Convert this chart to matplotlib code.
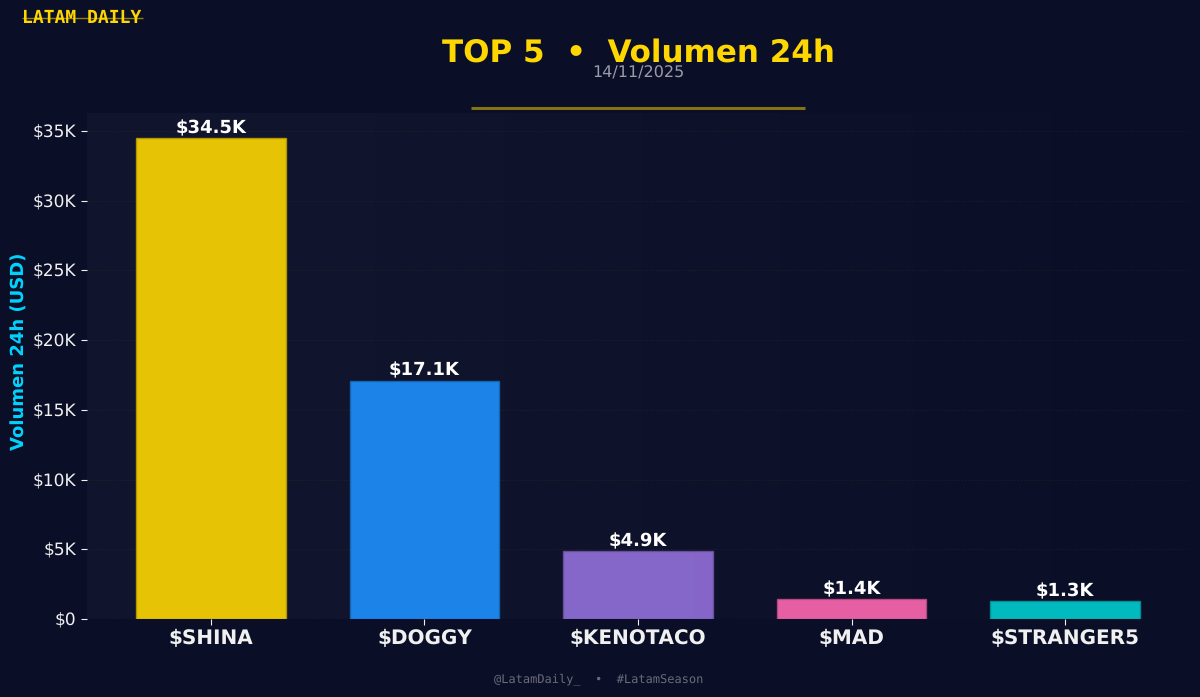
import numpy as np
import matplotlib
matplotlib.use("Agg")
import matplotlib.pyplot as plt
from matplotlib.colors import to_rgb

plt.rcParams["text.hinting"] = "no_hinting"
plt.rcParams["text.hinting_factor"] = 1

tokens = ["$SHINA", "$DOGGY", "$KENOTACO", "$MAD", "$STRANGER5"]
volumes = [34500, 17100, 4900, 1400, 1300]
labels = ["$34.5K", "$17.1K", "$4.9K", "$1.4K", "$1.3K"]
colors = ["#FFD700", "#1E90FF", "#9370DB", "#FF69B4", "#00CED1"]
yticks = [0, 5000, 10000, 15000, 20000, 25000, 30000, 35000]
yticklabels = ["$0", "$5K", "$10K", "$15K", "$20K", "$25K", "$30K", "$35K"]

BG = "#0a0e27"
W, H = 1200, 697
fig = plt.figure(figsize=(W / 100, H / 100), dpi=100, facecolor=BG)
ax = fig.add_axes([87 / W, 1 - 619 / H, (1189 - 87) / W, (619 - 113) / H], facecolor=BG)

# soft panel glow, brighter on the left
grad = np.clip(np.linspace(1, 0, 256) * 1.35, 0, 1).reshape(1, -1)
rgba = np.zeros((1, 256, 4))
rgba[..., :3] = to_rgb("#10142c")
rgba[..., 3] = grad
ax.imshow(rgba, extent=(0, 1, 0, 1), transform=ax.transAxes, aspect="auto", zorder=0)

x = np.arange(len(tokens))
edges = [tuple(0.72 * c for c in to_rgb(col)) for col in colors]
ax.bar(x, volumes, width=0.7, color=colors, alpha=0.9, edgecolor=edges, linewidth=1.0, zorder=3)
for xi, v, t in zip(x, volumes, labels):
    ax.text(xi, v + 70, t, ha="center", va="bottom", color="white",
            fontsize=13.2, fontweight="bold", zorder=5)

ax.set_xlim(-0.58, 4.58)
ax.set_ylim(0, 36290)
ax.set_xticks(x, tokens, fontsize=14.5, fontweight="bold", color="white")
ax.set_yticks(yticks, yticklabels, fontsize=12.5, color="#f0f0f0")
ax.tick_params(axis="both", colors="#f0f0f0", length=4.5, width=0.8, pad=3.5)
ax.tick_params(axis="x", pad=2.5)
ax.set_ylabel("Volumen 24h (USD)", color="#00D4FF", fontsize=13.3, fontweight="bold")
ax.yaxis.set_label_coords(-0.0530, 0.53)
ax.grid(axis="y", linestyle=":", color="#FFD700", alpha=0.08, linewidth=0.8, zorder=1)
for s in ax.spines.values():
    s.set_visible(False)

fig.text(638 / W, 1 - 53 / H, "TOP 5  •  Volumen 24h", color="#FFD700", fontsize=22.4,
         fontweight="bold", ha="center", va="center")
fig.text(638 / W, 1 - 73 / H, "14/11/2025", color="#9a9aa8", fontsize=11.2, ha="center", va="center")
fig.add_artist(plt.Line2D([471 / W, 805 / W], [1 - 108 / H] * 2, color="#FFD700", alpha=0.5,
                          linewidth=2.2, solid_capstyle="butt"))
fig.text(22 / W, 1 - 18 / H, "LATAM DAILY", color="#FFD700", fontsize=13.2, fontweight="bold",
         family="DejaVu Sans Mono", ha="left", va="center")
fig.add_artist(plt.Line2D([22 / W, 143 / W], [1 - 18 / H] * 2, color="#FFD700", alpha=0.55,
                          linewidth=1, solid_capstyle="butt", zorder=5))
fig.text(599 / W, 1 - 680 / H, "@LatamDaily_  •  #LatamSeason", color="#6b6b78", fontsize=8.6,
         family="DejaVu Sans Mono", ha="center", va="center")

fig.savefig("out.png", dpi=100, facecolor=BG)
